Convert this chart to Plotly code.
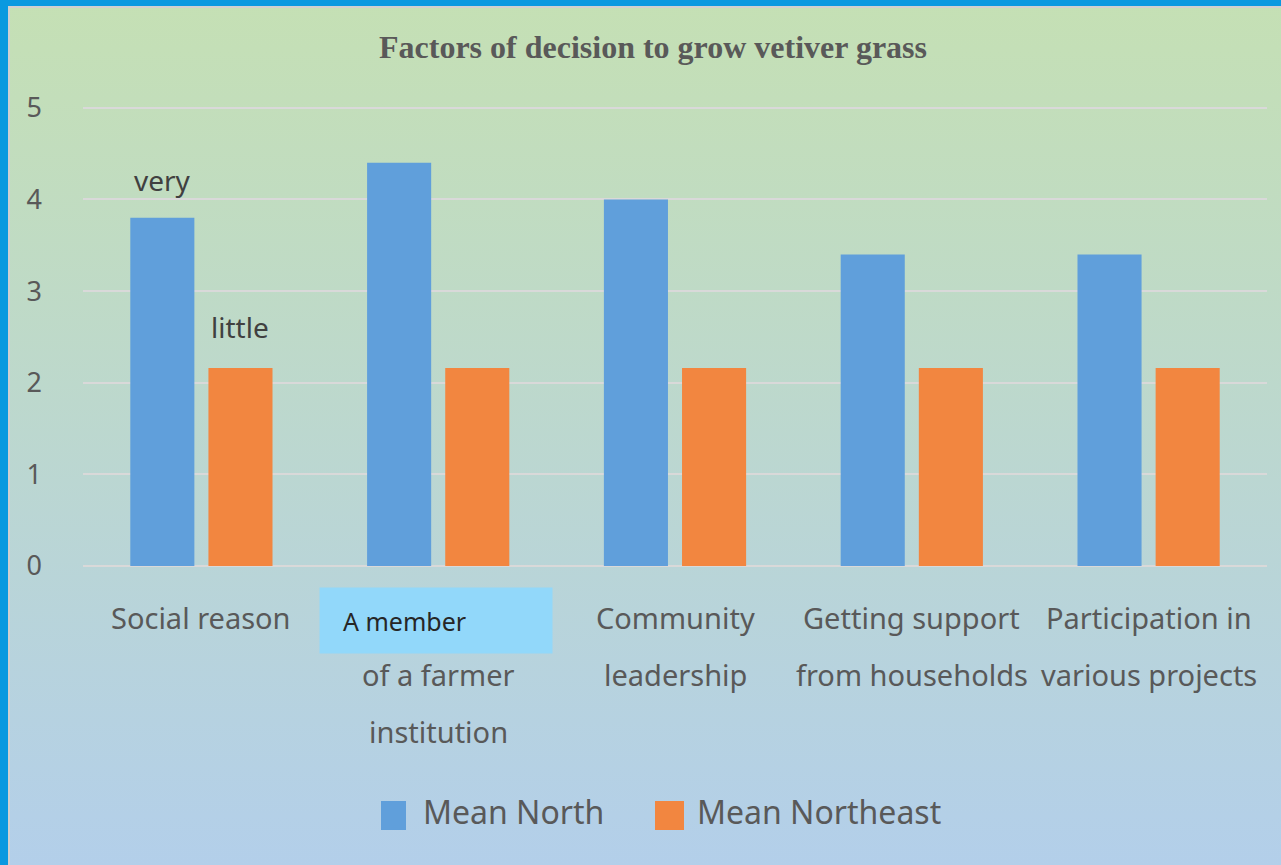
import base64
import plotly.graph_objects as go

categories = ["Social reason", "A member of a farmer institution", "Community leadership",
              "Getting support from households", "Participation in various projects"]
label_lines = [["Social reason"], ["A member", "of a farmer", "institution"],
               ["Community", "leadership"], ["Getting support", "from households"],
               ["Participation in", "various projects"]]
mean_north = [3.8, 4.4, 4.0, 3.4, 3.4]
mean_northeast = [2.16, 2.16, 2.16, 2.16, 2.16]
series_names = ["Mean North", "Mean Northeast"]
title_text = "Factors of decision to grow vetiver grass"
y_ticks = [0, 1, 2, 3, 4, 5]

W, H = 1281, 865
L, R, T, B = 83, 14, 106, 299
PW, PH = W - L - R, H - T - B

BLUE = "#609FDB"
ORANGE = "#F28640"
TXT = "#595959"
FONT = "Noto Sans"

fig = go.Figure()
fig.add_trace(go.Bar(x=list(range(5)), y=mean_north, name=series_names[0],
                     marker=dict(color=BLUE, line=dict(width=0))))
fig.add_trace(go.Bar(x=list(range(5)), y=mean_northeast, name=series_names[1],
                     marker=dict(color=ORANGE, line=dict(width=0))))

svg = ("<svg xmlns='http://www.w3.org/2000/svg' width='1281' height='865' preserveAspectRatio='none'>"
       "<defs><linearGradient id='g' x1='0' y1='0' x2='0' y2='1'>"
       "<stop offset='0' stop-color='#C5E0B4'/><stop offset='1' stop-color='#B3CFEA'/>"
       "</linearGradient></defs><rect width='1281' height='865' fill='url(#g)'/></svg>")
src = "data:image/svg+xml;base64," + base64.b64encode(svg.encode()).decode()

def px(xp):
    return (xp - L) / PW

def py(yp):
    return 1 - (yp - T) / PH

annotations = []
# category labels, one annotation per line for wide line spacing
for i, lines in enumerate(label_lines):
    for k, line in enumerate(lines):
        a = dict(x=i, xref="x", y=0, yref="y", yanchor="middle", xanchor="center",
                 yshift=-(51 + 57 * k), text=line, showarrow=False,
                 font=dict(family=FONT, size=29, color=TXT))
        if i == 1 and k == 0:
            a.update(bgcolor="#92D8FA", width=212, height=45, borderpad=10, align="left",
                     text="&nbsp;&nbsp;" + line,
                     font=dict(family=FONT, size=25, color="#262626"), xshift=-2, yshift=-54)
        annotations.append(a)

annotations.append(dict(x=0, xref="x", y=4.21, yref="y", xshift=-39, text="very",
                        showarrow=False, font=dict(family=FONT, size=28, color="#404040")))
annotations.append(dict(x=0, xref="x", y=2.61, yref="y", xshift=39, text="little",
                        showarrow=False, font=dict(family=FONT, size=28, color="#404040")))

# manual legend
shapes = []
leg_sq = [(381, 406), (655, 684)]
leg_tx = [421, 695]
colors = [BLUE, ORANGE]
for j in range(2):
    shapes.append(dict(type="rect", xref="paper", yref="paper",
                       x0=px(leg_sq[j][0]), x1=px(leg_sq[j][1]), y0=py(830), y1=py(801),
                       fillcolor=colors[j], line=dict(width=0), layer="above"))
    annotations.append(dict(x=px(leg_tx[j]), xref="paper", y=py(811), yref="paper",
                            xanchor="left", yanchor="middle", text=series_names[j],
                            showarrow=False, font=dict(family=FONT, size=32, color=TXT)))

# border
shapes.append(dict(type="rect", xref="paper", yref="paper", x0=px(0), x1=px(W + 5),
                   y0=py(6), y1=py(-5), fillcolor="#0A99E0", line=dict(width=0), layer="above"))
shapes.append(dict(type="rect", xref="paper", yref="paper", x0=px(-5), x1=px(8),
                   y0=py(H + 5), y1=py(-5), fillcolor="#0A99E0", line=dict(width=0), layer="above"))
shapes.append(dict(type="line", xref="paper", yref="paper", x0=px(9), x1=px(9),
                   y0=py(H + 5), y1=py(6), line=dict(color="#D0D0D0", width=2), layer="above"))
shapes.append(dict(type="line", xref="paper", yref="paper", x0=px(8), x1=px(W + 5),
                   y0=py(7), y1=py(7), line=dict(color="#D0D0D0", width=2), layer="above"))

fig.update_layout(
    width=W, height=H, margin=dict(l=L, r=R, t=T, b=B, pad=0),
    paper_bgcolor="#BCD8D0", plot_bgcolor="rgba(0,0,0,0)",
    barmode="group", bargap=0.34, bargroupgap=0.18, showlegend=False,
    title=dict(text="<b>" + title_text + "</b>", x=653 / W, xanchor="center",
               y=1 - 47 / H, yanchor="middle",
               font=dict(family="Liberation Serif", size=32, color=TXT)),
    images=[dict(source=src, xref="paper", yref="paper", x=-L / PW, y=1 + T / PH,
                 sizex=W / PW, sizey=H / PH, sizing="stretch", layer="below",
                 xanchor="left", yanchor="top")],
    shapes=shapes, annotations=annotations,
    xaxis=dict(range=[-0.5, 4.5], showticklabels=False, showgrid=False, zeroline=False,
               showline=False, ticks=""),
    yaxis=dict(range=[0, 5.02], tickvals=y_ticks, showgrid=True, gridcolor="#D9D9D9", gridwidth=2,
               zeroline=True, zerolinecolor="#D9D9D9", zerolinewidth=2, showline=False,
               ticks="", ticklabelstandoff=40,
               tickfont=dict(family=FONT, size=27, color=TXT)),
)

fig.write_html("out.html", config={"displayModeBar": False},
               post_script="document.body.style.margin='0';document.body.style.overflow='hidden';")
